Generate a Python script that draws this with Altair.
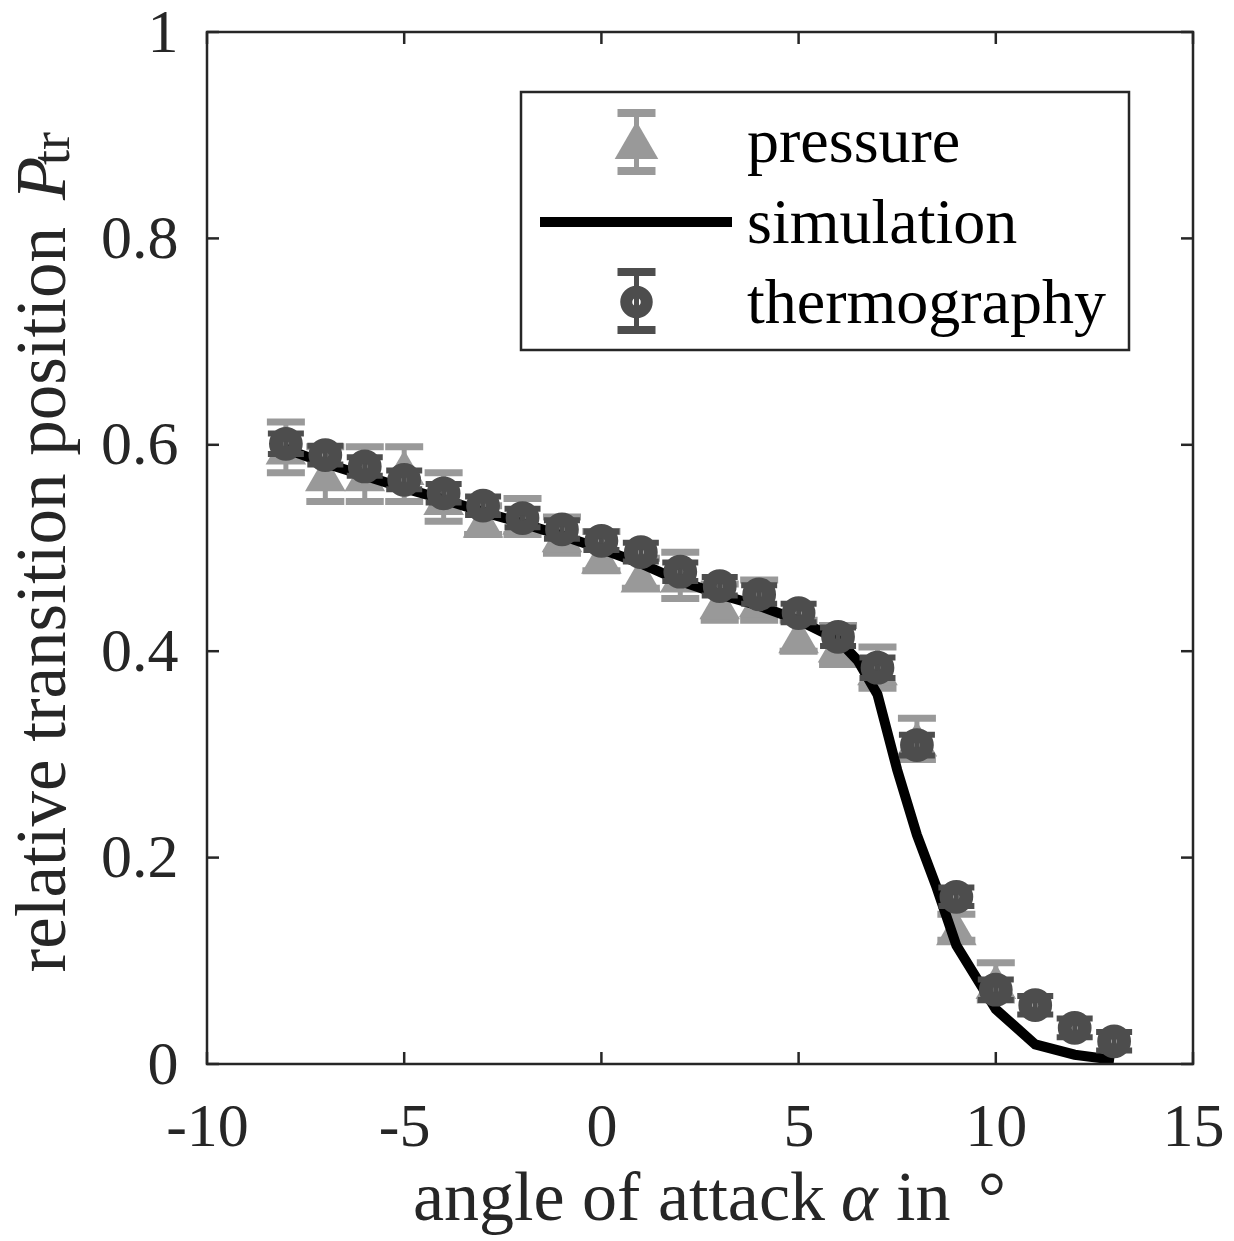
import altair as alt
import pandas as pd

# ---------------- data ----------------
therm_x = [-8, -7, -6, -5, -4, -3, -2, -1, 0, 1, 2, 3, 4, 5, 6, 7, 8, 9, 10, 11, 12, 13]
therm_y = [0.601, 0.590, 0.579, 0.566, 0.553, 0.541, 0.529, 0.518, 0.507, 0.496, 0.477,
           0.463, 0.455, 0.437, 0.414, 0.384, 0.309, 0.162, 0.072, 0.057, 0.035, 0.022]
therm_err = [0.010, 0.009, 0.009, 0.009, 0.009, 0.009, 0.009, 0.009, 0.009, 0.009, 0.009,
             0.009, 0.009, 0.009, 0.009, 0.010, 0.010, 0.009, 0.010, 0.009, 0.009, 0.009]

press_x = [-8, -7, -6, -5, -4, -3, -2, -1, 0, 1, 2, 3, 4, 5, 6, 7, 8, 9, 10]
press_y = [0.598, 0.572, 0.572, 0.578, 0.549, 0.527, 0.530, 0.513, 0.492, 0.474, 0.474,
           0.448, 0.450, 0.415, 0.406, 0.384, 0.315, 0.132, 0.080]
press_lo = [0.573, 0.545, 0.545, 0.545, 0.526, 0.513, 0.513, 0.495, 0.478, 0.461, 0.451,
            0.430, 0.430, 0.400, 0.387, 0.364, 0.295, 0.120, 0.062]
press_hi = [0.622, 0.598, 0.598, 0.598, 0.573, 0.541, 0.548, 0.530, 0.516, 0.490, 0.496,
            0.465, 0.469, 0.430, 0.425, 0.404, 0.335, 0.145, 0.098]

sim_x = [-8, -7, -6, -5, -4, -3, -2, -1, 0, 1, 2, 3, 4, 5, 6, 6.5, 7, 7.5, 8, 8.5, 9,
         10, 11, 12, 13]
sim_y = [0.596, 0.582, 0.570, 0.558, 0.547, 0.535, 0.524, 0.512, 0.499, 0.485, 0.468,
         0.455, 0.444, 0.430, 0.411, 0.391, 0.358, 0.285, 0.222, 0.171, 0.115,
         0.053, 0.019, 0.009, 0.004]

x_ticks = [-10, -5, 0, 5, 10, 15]
y_ticks = [0, 0.2, 0.4, 0.6, 0.8, 1]
legend_labels = ["pressure", "simulation", "thermography"]

x_title_parts = ["angle of attack", "α", "in", "°"]
y_title_parts = ["relative transition position", "P", "tr"]

# ---------------- styling ----------------
W, H = 986, 1032
FONT = "Liberation Serif"
TXT = "#262626"
C_P = "#999999"
C_T = "#4d4d4d"

therm = pd.DataFrame({"x": therm_x, "y": therm_y,
                      "lo": [a - e for a, e in zip(therm_y, therm_err)],
                      "hi": [a + e for a, e in zip(therm_y, therm_err)]})
press = pd.DataFrame({"x": press_x, "y": press_y, "lo": press_lo, "hi": press_hi})
sim = pd.DataFrame({"x": sim_x, "y": sim_y})
xt = pd.DataFrame({"v": x_ticks})
yt = pd.DataFrame({"v": y_ticks})
one = pd.DataFrame({"k": [0]})

xs = alt.Scale(domain=[-10, 15], nice=False, zero=False)
ys = alt.Scale(domain=[0, 1], nice=False, zero=False)

X = lambda f: alt.X(f, type="quantitative", scale=xs)
Y = lambda f: alt.Y(f, type="quantitative", scale=ys)

base_axes = alt.Chart(sim).mark_line(opacity=0).encode(
    x=alt.X("x:Q", scale=xs,
            axis=alt.Axis(values=x_ticks, title=None, ticks=False, domain=False, grid=False,
                          labelFont=FONT, labelFontSize=62, labelColor=TXT, labelFlush=False,
                          labelOverlap=False, labelBound=False,
                          labelPadding=32, labelExpr="'' + datum.value")),
    y=alt.Y("y:Q", scale=ys,
            axis=alt.Axis(values=y_ticks, title=None, ticks=False, domain=False, grid=False,
                          labelFont=FONT, labelFontSize=62, labelColor=TXT, labelFlush=False,
                          labelOverlap=False, labelBound=False,
                          labelPadding=29, labelExpr="'' + datum.value")),
)

# pressure
p_rule = alt.Chart(press).mark_rule(color=C_P, strokeWidth=5).encode(
    x=X("x"), y=Y("lo"), y2="hi")
p_lo = alt.Chart(press).mark_tick(color=C_P, orient="horizontal", size=38, thickness=7,
                                  opacity=1).encode(x=X("x"), y=Y("lo"))
p_hi = alt.Chart(press).mark_tick(color=C_P, orient="horizontal", size=38, thickness=7,
                                  opacity=1).encode(x=X("x"), y=Y("hi"))
p_pt = alt.Chart(press).mark_point(shape="triangle-up", filled=True, size=1650, color=C_P,
                                   opacity=1).encode(x=X("x"), y=Y("y"))

# simulation
s_line = alt.Chart(sim).mark_line(color="black", strokeWidth=10, strokeJoin="miter").encode(
    x=X("x"), y=Y("y"))

# thermography
t_rule = alt.Chart(therm).mark_rule(color=C_T, strokeWidth=5).encode(
    x=X("x"), y=Y("lo"), y2="hi")
t_lo = alt.Chart(therm).mark_tick(color=C_T, orient="horizontal", size=36, thickness=6,
                                  opacity=1).encode(x=X("x"), y=Y("lo"))
t_hi = alt.Chart(therm).mark_tick(color=C_T, orient="horizontal", size=36, thickness=6,
                                  opacity=1).encode(x=X("x"), y=Y("hi"))
t_pt = alt.Chart(therm).mark_point(shape="circle", filled=False, size=390, strokeWidth=14,
                                   color=C_T, opacity=1).encode(x=X("x"), y=Y("y"))

# frame and inward ticks on all four sides
frame = alt.Chart(one).mark_rect(fill="transparent", stroke=TXT, strokeWidth=2.5).encode(
    x=alt.value(0), x2=alt.value(W), y=alt.value(0), y2=alt.value(H))
TK = 12
tick_b = alt.Chart(xt).mark_rule(color=TXT, strokeWidth=2.5).encode(
    x=X("v"), y=alt.value(H), y2=alt.value(H - TK))
tick_t = alt.Chart(xt).mark_rule(color=TXT, strokeWidth=2.5).encode(
    x=X("v"), y=alt.value(0), y2=alt.value(TK))
tick_l = alt.Chart(yt).mark_rule(color=TXT, strokeWidth=2.5).encode(
    y=Y("v"), x=alt.value(0), x2=alt.value(TK))
tick_r = alt.Chart(yt).mark_rule(color=TXT, strokeWidth=2.5).encode(
    y=Y("v"), x=alt.value(W), x2=alt.value(W - TK))

# legend (manual)
leg_box = alt.Chart(one).mark_rect(fill="white", stroke=TXT, strokeWidth=2.5).encode(
    x=alt.value(314), x2=alt.value(922), y=alt.value(60), y2=alt.value(318))
lx = 429.5
leg = [leg_box]
leg.append(alt.Chart(one).mark_rule(color=C_P, strokeWidth=5).encode(
    x=alt.value(lx), y=alt.value(81), y2=alt.value(139)))
for yy in (81, 139):
    leg.append(alt.Chart(one).mark_rule(color=C_P, strokeWidth=8).encode(
        x=alt.value(lx - 19), x2=alt.value(lx + 19), y=alt.value(yy)))
leg.append(alt.Chart(one).mark_point(shape="triangle-up", filled=True, size=1900, color=C_P,
                                     opacity=1).encode(x=alt.value(lx), y=alt.value(108)))
leg.append(alt.Chart(one).mark_rule(color="black", strokeWidth=10).encode(
    x=alt.value(333), x2=alt.value(525), y=alt.value(190)))
leg.append(alt.Chart(one).mark_rule(color=C_T, strokeWidth=5).encode(
    x=alt.value(lx), y=alt.value(240), y2=alt.value(298)))
for yy in (240, 298):
    leg.append(alt.Chart(one).mark_rule(color=C_T, strokeWidth=8).encode(
        x=alt.value(lx - 19), x2=alt.value(lx + 19), y=alt.value(yy)))
leg.append(alt.Chart(one).mark_point(shape="circle", filled=False, size=420, strokeWidth=12,
                                     color=C_T, opacity=1).encode(x=alt.value(lx),
                                                                  y=alt.value(270)))
for lab, yy in zip(legend_labels, (130, 211, 291)):
    leg.append(alt.Chart(one).mark_text(text=lab, font=FONT, fontSize=64, color="black",
                                        align="left", baseline="alphabetic").encode(
        x=alt.value(540), y=alt.value(yy)))

# axis titles built from text pieces (mixed upright / italic)
titles = []
xt_pos = [(618, "right", "normal"), (634, "left", "italic"), (689, "left", "normal"),
          (771, "left", "normal")]
for txt, (px, al, st) in zip(x_title_parts, xt_pos):
    titles.append(alt.Chart(one).mark_text(text=txt, font=FONT, fontSize=70, color=TXT,
                                           align=al, baseline="alphabetic",
                                           fontStyle=st).encode(
        x=alt.value(px), y=alt.value(1188)))
yt_pos = [(-142, 195, "right", "normal", 71), (-142, 168, "left", "italic", 71),
          (-138, 133, "left", "normal", 54)]
for txt, (px, py, al, st, fs) in zip(y_title_parts, yt_pos):
    titles.append(alt.Chart(one).mark_text(text=txt, font=FONT, fontSize=fs, color=TXT,
                                           align=al, baseline="alphabetic", angle=270,
                                           fontStyle=st).encode(
        x=alt.value(px), y=alt.value(py)))

chart = alt.layer(
    base_axes, p_rule, p_lo, p_hi, p_pt, s_line, t_rule, t_lo, t_hi, t_pt,
    frame, tick_b, tick_t, tick_l, tick_r, *leg, *titles
).properties(
    width=W, height=H,
    padding={"left": 199, "top": 24, "right": 33, "bottom": 177},
    autosize=alt.AutoSizeParams(type="none"),
).configure_view(
    strokeWidth=0
).configure(background="white")

chart.save("out.html", embed_options={"renderer": "svg", "actions": False})
